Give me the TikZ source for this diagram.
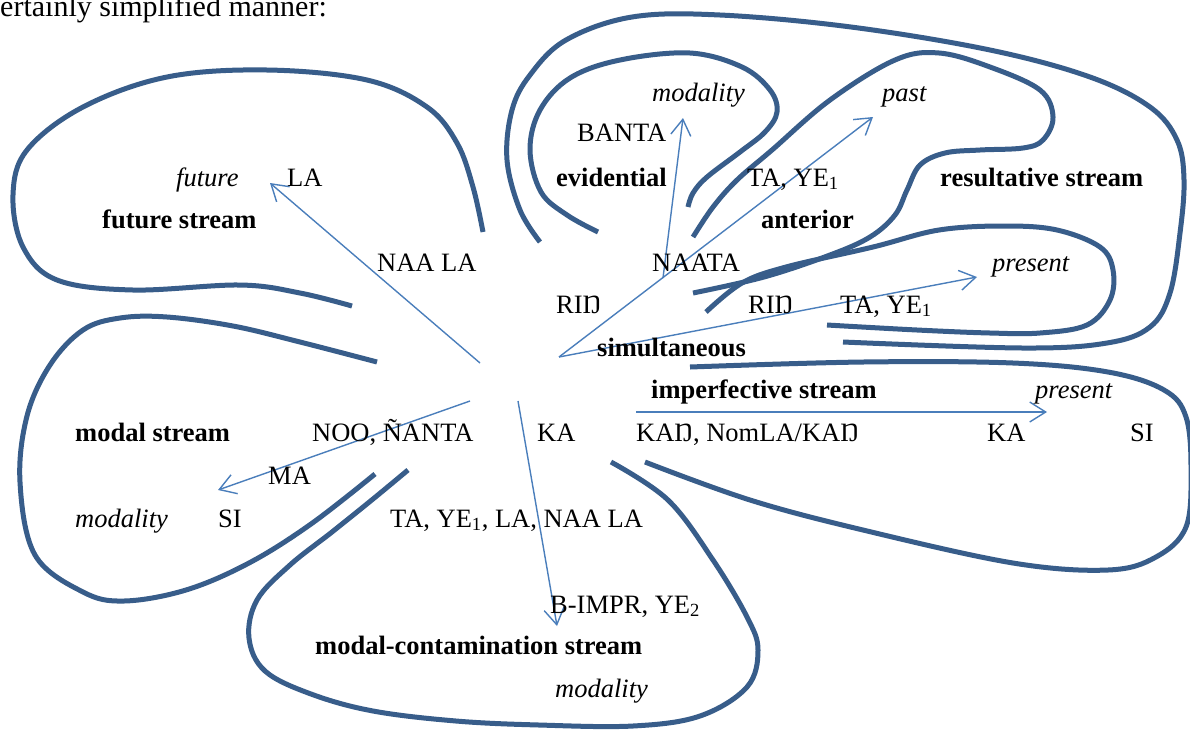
\documentclass[tikz,border=0pt]{standalone}
\usepackage{fontspec}
\setmainfont{Liberation Serif}
\usetikzlibrary{arrows.meta}
\definecolor{streamblue}{RGB}{56,93,138}
\definecolor{arrowblue}{RGB}{74,126,187}
\begin{document}
\begin{tikzpicture}[x=1pt,y=-1pt,
  stream/.style={draw=streamblue, line width=5pt, line join=round},
  arr/.style={draw=arrowblue, line width=1.4pt, -{Straight Barb[length=16pt,width=20pt]}},
  lbl/.style={anchor=base west, inner sep=0pt, font=\fontsize{26.5}{30}\selectfont},
  blbl/.style={lbl, font=\fontsize{26.5}{30}\selectfont\bfseries},
  ilbl/.style={lbl, font=\fontsize{26.5}{30}\selectfont\itshape}]
\clip (0,0) rectangle (1190,729);
\fill[white] (0,0) rectangle (1190,729);

% intro text
\node[anchor=base west, inner sep=0pt, font=\fontsize{30}{36}\selectfont] (intro) at (0,16) {ertainly simplified manner:};

% stream outlines
\draw[stream] plot[smooth, tension=0.6] coordinates {(483,232) (473,187) (457,143) (427,107) (367,80) (267,70) (167,77) (83,107) (27,150) (13,195) (23,247) (57,280) (133,290) (240,285) (300,293) (352,306)};
\draw[stream] plot[smooth, tension=0.6] coordinates {(377,362) (300,342) (233,326) (167,317) (120,318) (83,330) (50,365) (27,416) (20,482) (35,555) (83,592) (124,601) (186,590) (249,563) (311,524) (375,474)};
\draw[stream] plot[smooth, tension=0.6] coordinates {(408,470) (373,499) (332,532) (290,565) (257,600) (249,638) (265,671) (311,694) (373,711) (456,721) (539,725) (633,726) (700,716) (747,687) (758,650) (747,617) (713,560) (668,500) (611,462)};
\draw[stream] plot[smooth, tension=0.6] coordinates {(690,367) (863,362) (1013,363) (1108,372) (1164,390) (1186,417) (1191,470) (1186,527) (1156,557) (1108,570) (1013,563) (863,530) (750,500) (645,462)};
\draw[stream] plot[smooth, tension=0.6] coordinates {(598,232) (567,215) (541,192) (530,150) (540,110) (570,78) (620,60) (690,53) (742,67) (770,90) (777,112) (765,132) (740,152) (707,177) (693,193) (688,207)};
\draw[stream] plot[smooth, tension=0.6] coordinates {(693,237) (713,207) (737,180) (772,150) (830,100) (895,60) (939,53) (990,67) (1040,90) (1053,117) (1043,140) (1023,148) (980,150) (945,153) (920,165) (907,190) (895,215) (870,237) (830,255) (764,277) (693,293)};
\draw[stream] plot[smooth, tension=0.6] coordinates {(706,312) (742,283) (786,267) (873,247) (939,230) (1005,226) (1057,230) (1100,247) (1113,270) (1110,300) (1087,325) (1040,333) (990,333) (917,330) (827,325)};
\draw[stream] plot[smooth, tension=0.6] coordinates {(540,242) (520,210) (507,160) (512,110) (530,75) (566,40) (632,17) (720,15) (851,27) (990,50) (1090,77) (1150,107) (1177,140) (1184,180) (1180,233) (1170,293) (1150,327) (1107,343) (1023,348) (843,342)};

% arrow end points
\coordinate (cF) at (480,363);
\coordinate (tF) at (270,183);
\coordinate (cS) at (559,357);
\coordinate (tPast) at (873,117);
\coordinate (cE) at (663,278);
\coordinate (tEv) at (683,118);
\coordinate (tPres) at (977,277);
\coordinate (cI) at (636,412);
\coordinate (tI) at (1047,412);
\coordinate (cM) at (470,401);
\coordinate (tM) at (218,490);
\coordinate (cC) at (518,401);
\coordinate (tC) at (557,626);

\draw[arr] (cF) -- (tF);
\draw[arr] (cS) -- (tPast);
\draw[arr] (cE) -- (tEv);
\draw[arr] (cS) -- (tPres);
\draw[arr] (cI) -- (tI);
\draw[arr] (cM) -- (tM);
\draw[arr] (cC) -- (tC);

% labels
\node[ilbl] (evmod) at (652,101) {modality};
\node[ilbl] (past) at (882,101) {past};
\node[lbl] (banta) at (577,141) {BANTA};
\node[ilbl] (future) at (176,186) {future};
\node[lbl] (la) at (287,186) {LA};
\node[blbl] (evid) at (556,186) {evidential};
\node[lbl] (taye1) at (747,186) {TA, YE\textsubscript{1}};
\node[blbl] (result) at (940,186) {resultative stream};
\node[blbl] (futstr) at (102,228) {future stream};
\node[blbl] (anter) at (761,228) {anterior};
\node[lbl] (naala) at (377,271) {NAA LA};
\node[lbl] (naata) at (652,271) {NAATA};
\node[ilbl] (pres1) at (992,271) {present};
\node[lbl] (rin1) at (556,313) {RIŊ};
\node[lbl] (rin2) at (748,313) {RIŊ};
\node[lbl] (taye2) at (840,313) {TA, YE\textsubscript{1}};
\node[blbl] (simul) at (597,356) {simultaneous};
\node[blbl] (imperf) at (651,398) {imperfective stream};
\node[ilbl] (pres2) at (1035,398) {present};
\node[blbl] (modstr) at (75,441) {modal stream};
\node[lbl] (noo) at (312,441) {NOO, ÑANTA};
\node[lbl] (ka1) at (537,441) {KA};
\node[lbl] (kan) at (636,441) {KAŊ, NomLA/KAŊ};
\node[lbl] (ka2) at (987,441) {KA};
\node[lbl] (si1) at (1130,441) {SI};
\node[lbl] (ma) at (268,484) {MA};
\node[ilbl] (modmod) at (75,527) {modality};
\node[lbl] (si2) at (218,527) {SI};
\node[lbl] (tayela) at (390,527) {TA, YE\textsubscript{1}, LA, NAA LA};
\node[lbl] (bimpr) at (550,613) {B-IMPR, YE\textsubscript{2}};
\node[blbl] (modcon) at (315,654) {modal-contamination stream};
\node[ilbl] (conmod) at (555,697) {modality};
\end{tikzpicture}
\end{document}
